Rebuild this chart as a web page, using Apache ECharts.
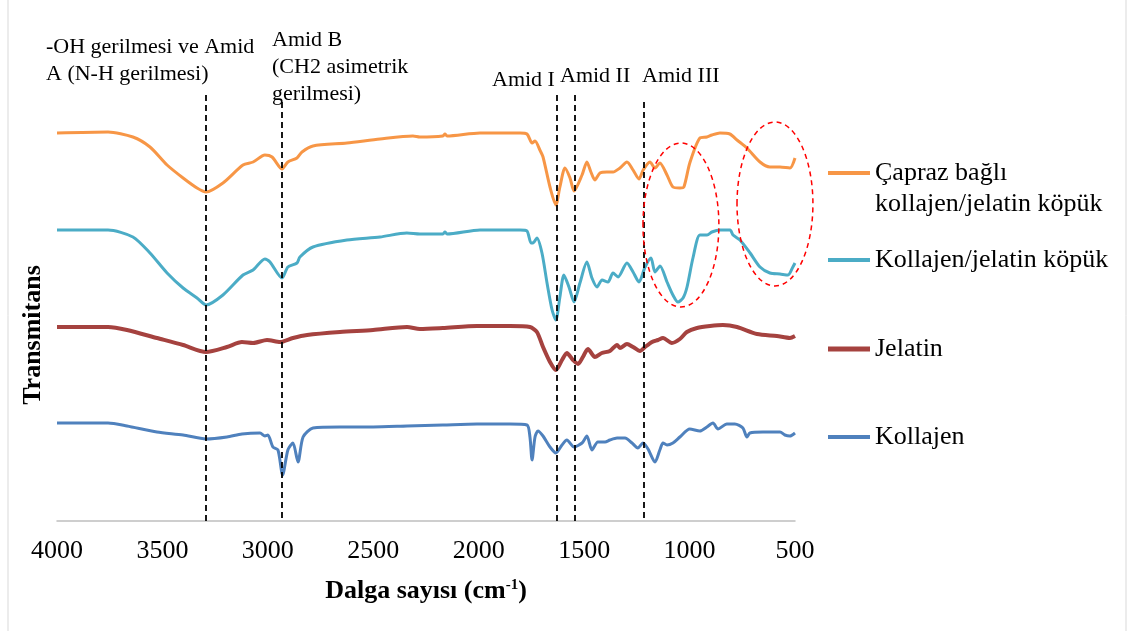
<!DOCTYPE html>
<html>
<head>
<meta charset="utf-8">
<title>FTIR</title>
<script src="https://cdn.jsdelivr.net/npm/echarts@6/dist/echarts.min.js"></script>
<style>
  html, body { margin: 0; padding: 0; background: #fff; }
  #chart { width: 1132px; height: 631px; }
</style>
</head>
<body>
<div id="chart"></div>
<script>
// wavenumber (cm-1), transmittance (a.u., stacked offsets as in the figure)
const crossLinked = [
  [4000, 388], [3758, 389], [3640, 384], [3559, 374], [3478, 356], [3402, 343], [3336, 333],
  [3293, 329], [3213, 338], [3118, 356], [3070, 359], [3014, 366], [2980, 364], [2933, 352],
  [2905, 359], [2862, 363], [2838, 369], [2786, 375], [2625, 378], [2468, 382], [2312, 385],
  [2279, 384], [2170, 385], [2160, 387], [2150, 385], [1994, 388], [1804, 388], [1771, 387],
  [1747, 378], [1733, 380], [1710, 371], [1695, 364], [1662, 334], [1634, 316], [1615, 334],
  [1591, 353], [1567, 343], [1548, 330], [1510, 346], [1487, 359], [1468, 349], [1449, 341],
  [1425, 348], [1392, 349], [1363, 349], [1330, 353], [1297, 359], [1268, 351], [1240, 342],
  [1220, 351], [1188, 359], [1164, 353], [1141, 358], [1107, 346], [1079, 334], [1046, 333],
  [1027, 334], [999, 358], [951, 383], [918, 384], [894, 386], [856, 388], [809, 387],
  [775, 381], [728, 373], [666, 359], [619, 354], [571, 354], [524, 353], [500, 363]
];
const foam = [
  [4000, 291], [3758, 291], [3640, 284], [3559, 268], [3478, 248], [3402, 233], [3336, 223],
  [3293, 216], [3213, 226], [3118, 246], [3070, 251], [3014, 262], [2990, 259], [2933, 243],
  [2905, 254], [2862, 258], [2848, 264], [2786, 274], [2625, 281], [2468, 284], [2341, 288],
  [2279, 287], [2170, 287], [2160, 289], [2150, 287], [1994, 291], [1804, 291], [1771, 290],
  [1752, 278], [1743, 278], [1724, 283], [1700, 268], [1676, 238], [1652, 211], [1634, 201],
  [1615, 224], [1596, 246], [1572, 234], [1548, 219], [1520, 238], [1487, 259], [1463, 243],
  [1439, 234], [1415, 241], [1387, 239], [1363, 248], [1339, 244], [1297, 258], [1268, 249],
  [1240, 239], [1211, 254], [1183, 263], [1164, 249], [1140, 255], [1107, 239], [1079, 226],
  [1055, 219], [1031, 223], [1012, 234], [984, 263], [951, 286], [917, 286], [894, 289],
  [856, 291], [808, 291], [794, 286], [761, 281], [713, 268], [666, 254], [619, 248],
  [571, 247], [533, 246], [510, 254], [500, 258]
];
const gelatin = [
  [4000, 194], [3758, 194], [3668, 191], [3526, 183], [3402, 176], [3293, 169], [3194, 174],
  [3123, 179], [3070, 178], [3004, 181], [2942, 179], [2881, 183], [2814, 186], [2658, 189],
  [2501, 191], [2340, 194], [2279, 192], [2170, 193], [2008, 195], [1852, 195], [1757, 194],
  [1724, 189], [1695, 174], [1662, 159], [1634, 151], [1605, 161], [1582, 168], [1553, 161],
  [1529, 157], [1506, 164], [1482, 172], [1449, 164], [1416, 168], [1378, 170], [1344, 176],
  [1330, 173], [1297, 177], [1268, 174], [1235, 170], [1211, 174], [1178, 179], [1150, 181],
  [1126, 183], [1084, 178], [1046, 182], [1013, 189], [965, 193], [903, 195], [842, 196],
  [775, 194], [680, 187], [586, 185], [524, 183], [500, 185]
];
const collagen = [
  [4000, 98], [3758, 98], [3668, 95], [3526, 89], [3402, 86], [3293, 82], [3194, 84],
  [3123, 87], [3037, 88], [3014, 85], [3000, 86], [2976, 74], [2952, 71], [2930, 46],
  [2905, 71], [2881, 78], [2857, 59], [2833, 84], [2786, 93], [2658, 94], [2501, 94],
  [2340, 95], [2170, 96], [2008, 97], [1852, 97], [1771, 96], [1757, 84], [1747, 61],
  [1733, 84], [1719, 90], [1695, 85], [1662, 74], [1634, 68], [1605, 76], [1582, 81],
  [1548, 74], [1510, 78], [1487, 85], [1463, 71], [1435, 79], [1401, 79], [1378, 81],
  [1344, 83], [1306, 83], [1273, 78], [1245, 73], [1221, 78], [1197, 72], [1164, 59],
  [1141, 71], [1126, 78], [1107, 76], [1079, 78], [1046, 84], [999, 92], [951, 90],
  [918, 94], [889, 98], [865, 92], [823, 97], [785, 97], [747, 93], [728, 84], [714, 88],
  [652, 89], [571, 89], [548, 86], [524, 85], [500, 88]
];
const seriesNames = ['Çapraz bağlı kollajen/jelatin köpük', 'Kollajen/jelatin köpük', 'Jelatin', 'Kollajen'];
const seriesColors = ['#F79646', '#4BACC6', '#A5423F', '#4F81BD'];
const xTicks = { min: 500, max: 4000, interval: 500 };
// band positions (cm-1) and top of each dashed line
const bandLines = [[3293, 426], [2935, 419], [1630, 426], [1544, 426], [1217, 419]];
// highlighted regions: center wavenumber, center value, half width (cm-1), half height
const regions = [[1041, 296, 180, 82], [595, 317, 180, 82]];

const serif = "'Times New Roman', 'Liberation Serif', serif";
const chart = echarts.init(document.getElementById('chart'));

const allData = [crossLinked, foam, gelatin, collagen];
const legendCenters = [173, 260, 349, 437];

const legends = seriesNames.map(function (name, i) {
  const first = i === 0;
  return {
    data: [name],
    left: 828,
    top: first ? legendCenters[i] - 46.5 : legendCenters[i] - 15.5,
    padding: 0,
    icon: 'rect',
    itemWidth: 42,
    itemHeight: i === 2 ? 5 : 4,
    itemGap: 0,
    selectedMode: false,
    // leading empty line keeps the icon level with the first text line
    formatter: first ? '\nÇapraz bağlı\nkollajen/jelatin köpük' : '{name}',
    textStyle: {
      fontFamily: serif,
      fontSize: 26,
      color: '#000',
      lineHeight: 31
    }
  };
});

const series = allData.map(function (d, i) {
  return {
    name: seriesNames[i],
    type: 'line',
    data: d,
    symbol: 'none',
    smooth: 0.25,
    z: 3,
    lineStyle: { color: seriesColors[i], width: i === 2 ? 4 : 3 },
    itemStyle: { color: seriesColors[i] }
  };
});

series[0].markLine = {
  silent: true,
  symbol: 'none',
  label: { show: false },
  lineStyle: { color: '#000', type: [6, 4], width: 1.8 },
  data: bandLines.map(function (b) {
    return [{ coord: [b[0], b[1]] }, { coord: [b[0], 0] }];
  })
};

function annot(text, x, y) {
  return {
    type: 'text',
    x: x,
    y: y,
    style: {
      text: text,
      font: '22px ' + serif,
      fill: '#000',
      lineHeight: 27,
      verticalAlign: 'middle'
    }
  };
}

chart.setOption({
  animation: false,
  backgroundColor: '#fff',
  grid: { left: 57, right: 337, top: 21, bottom: 110 },
  legend: legends,
  xAxis: {
    type: 'value',
    inverse: true,
    min: xTicks.min,
    max: xTicks.max,
    interval: xTicks.interval,
    name: '{b|Dalga sayısı (cm}{s|-1}{b|)}',
    nameLocation: 'middle',
    nameGap: 57,
    nameTextStyle: {
      rich: {
        b: { fontFamily: serif, fontWeight: 'bold', fontSize: 26, color: '#000' },
        s: { fontFamily: serif, fontWeight: 'bold', fontSize: 15, color: '#000', verticalAlign: 'top', padding: [0, 0, 12, 0] }
      }
    },
    axisLine: { lineStyle: { color: '#BFBFBF', width: 1.5 } },
    axisTick: { show: false },
    splitLine: { show: false },
    axisLabel: {
      fontFamily: serif,
      fontSize: 26,
      color: '#000',
      margin: 17,
      formatter: function (v) { return String(v); }
    }
  },
  yAxis: {
    type: 'value',
    min: 0,
    max: 500,
    show: false
  },
  series: series
});

const graphics = [
  {
    type: 'rect',
    shape: { x: 8, y: -5, width: 1118, height: 645 },
    style: { fill: 'none', stroke: '#D9D9D9', lineWidth: 1 },
    silent: true
  },
  annot('-OH gerilmesi ve Amid\nA (N-H gerilmesi)', 46, 61),
  annot('Amid B\n(CH2 asimetrik\ngerilmesi)', 272, 67),
  annot('Amid I', 492, 80),
  annot('Amid II', 560, 76),
  annot('Amid III', 642, 76),
  {
    type: 'text',
    x: 33,
    y: 335,
    rotation: Math.PI / 2,
    style: {
      text: 'Transmitans',
      font: 'bold 26px ' + serif,
      fill: '#000',
      align: 'center',
      verticalAlign: 'middle'
    }
  }
];

regions.forEach(function (r) {
  const c = chart.convertToPixel({ xAxisIndex: 0, yAxisIndex: 0 }, [r[0], r[1]]);
  const e = chart.convertToPixel({ xAxisIndex: 0, yAxisIndex: 0 }, [r[0] - r[2], r[1] + r[3]]);
  graphics.push({
    type: 'ellipse',
    silent: true,
    shape: { cx: c[0], cy: c[1], rx: Math.abs(e[0] - c[0]), ry: Math.abs(c[1] - e[1]) },
    style: { fill: 'none', stroke: '#FF0000', lineWidth: 1.5, lineDash: [5, 4] },
    z: 10
  });
});

chart.setOption({ graphic: graphics });
</script>
</body>
</html>
